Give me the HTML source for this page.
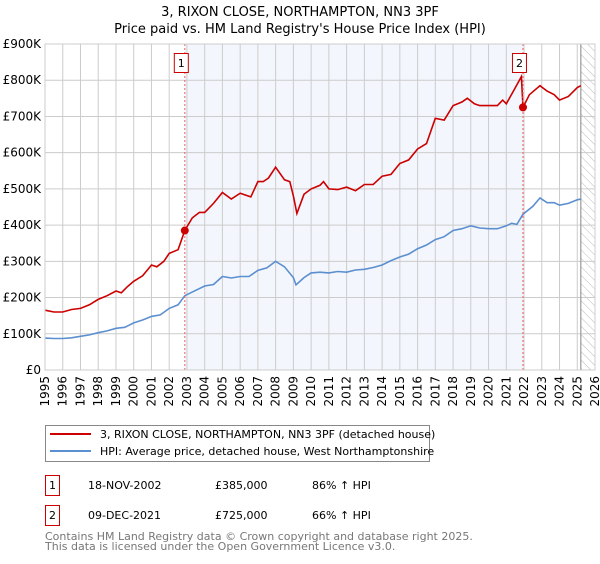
<!DOCTYPE html>
<html><head><meta charset="utf-8"><style>
body{margin:0;background:#fff;font-family:"DejaVu Sans","Liberation Sans",sans-serif;}
svg text{font-family:"DejaVu Sans","Liberation Sans",sans-serif;}
</style></head><body>
<svg id="chart" width="600" height="560" xmlns="http://www.w3.org/2000/svg">
<defs><pattern id="hatch" width="6" height="6" patternUnits="userSpaceOnUse" patternTransform="rotate(-45)"><line x1="0" y1="0" x2="0" y2="6" stroke="#bbb" stroke-width="1"/></pattern></defs>
<text x="300" y="16" text-anchor="middle" font-size="13">3, RIXON CLOSE, NORTHAMPTON, NN3 3PF</text>
<text x="300" y="33" text-anchor="middle" font-size="13">Price paid vs. HM Land Registry's House Price Index (HPI)</text>
<g id="plot"></g>
<g>
<rect x="45.5" y="425.5" width="384" height="36" fill="#fff" stroke="#888"/>
<line x1="50" y1="434" x2="91" y2="434" stroke="#cc0000" stroke-width="2"/>
<text x="100" y="438" font-size="11">3, RIXON CLOSE, NORTHAMPTON, NN3 3PF (detached house)</text>
<line x1="50" y1="451" x2="91" y2="451" stroke="#5b8fd0" stroke-width="2"/>
<text x="100" y="455" font-size="11">HPI: Average price, detached house, West Northamptonshire</text>
</g>
<g font-size="11">
<rect x="45.5" y="475.5" width="14" height="20" fill="#fff" stroke="#cc0000"/>
<text x="52.5" y="489" text-anchor="middle">1</text>
<text x="88" y="489">18-NOV-2002</text><text x="215" y="489">£385,000</text><text x="312" y="489">86% ↑ HPI</text>
<rect x="45.5" y="505.5" width="14" height="20" fill="#fff" stroke="#cc0000"/>
<text x="52.5" y="519" text-anchor="middle">2</text>
<text x="88" y="519">09-DEC-2021</text><text x="215" y="519">£725,000</text><text x="312" y="519">66% ↑ HPI</text>
</g>
<text x="45" y="540" font-size="11" fill="#777">Contains HM Land Registry data © Crown copyright and database right 2025.</text>
<text x="45" y="550" font-size="11" fill="#777">This data is licensed under the Open Government Licence v3.0.</text>
</svg>
<script>
const hpiYears=[1995,1995.5,1996,1996.5,1997,1997.5,1998,1998.5,1999,1999.5,2000,2000.5,2001,2001.5,2002,2002.5,2002.88,2003.5,2004,2004.5,2005,2005.5,2006,2006.5,2007,2007.5,2008,2008.5,2009,2009.15,2009.6,2010,2010.5,2011,2011.5,2012,2012.5,2013,2013.5,2014,2014.5,2015,2015.5,2016,2016.5,2017,2017.5,2018,2018.5,2019,2019.5,2020,2020.5,2021,2021.3,2021.6,2021.94,2022.5,2022.9,2023.3,2023.7,2024,2024.5,2025,2025.2];
const hpiValues=[88,87,87,89,93,97,103,108,115,118,130,138,148,152,170,180,205,220,232,236,258,254,258,258,275,282,300,285,255,235,255,268,270,268,272,270,276,278,283,290,302,312,320,335,345,360,368,385,390,398,392,390,390,398,405,402,430,452,475,462,462,455,460,470,472];
const redYears=[1995,1995.5,1996,1996.5,1997,1997.5,1998,1998.5,1999,1999.3,1999.6,2000,2000.5,2001,2001.3,2001.7,2002,2002.5,2002.88,2003.3,2003.7,2004,2004.5,2005,2005.5,2006,2006.6,2007,2007.3,2007.6,2008,2008.5,2008.8,2009,2009.2,2009.6,2010,2010.5,2010.7,2011,2011.5,2012,2012.5,2013,2013.5,2014,2014.5,2015,2015.5,2016,2016.5,2017,2017.5,2018,2018.5,2018.8,2019.2,2019.5,2020,2020.5,2020.8,2021,2021.4,2021.85,2021.94,2022.3,2022.9,2023.3,2023.7,2024,2024.5,2025,2025.2];
const redValues=[165,160,160,167,170,180,195,205,218,213,228,245,260,290,285,300,322,332,385,420,435,435,460,490,472,488,478,520,520,530,560,525,520,480,432,485,500,510,520,500,498,505,495,512,512,535,540,570,580,610,625,695,690,730,740,750,735,730,730,730,745,735,770,810,725,760,785,770,760,745,755,780,785];
const years=[];for(let y=1995;y<=2026;y++)years.push(y);
const yTicks=[0,100,200,300,400,500,600,700,800,900];
const yTickLabels=["£0","£100K","£200K","£300K","£400K","£500K","£600K","£700K","£800K","£900K"];
const saleYears=[2002.88,2021.94];
const salePrices=[385,725];
const saleLabels=["1","2"];
const X0=45,X1=595,Y0=370,Y1=44;
const xs=y=>X0+(y-1995)/(2026-1995)*(X1-X0);
const ys=v=>Y0-v/900*(Y0-Y1);
const NS="http://www.w3.org/2000/svg";
const g=document.getElementById('plot');
function mk(t,a,p){const e=document.createElementNS(NS,t);for(const k in a)e.setAttribute(k,a[k]);(p||g).appendChild(e);return e;}
let r=mk('rect',{x:xs(saleYears[0]),y:Y1,width:xs(saleYears[1])-xs(saleYears[0]),height:Y0-Y1,fill:'#eef2fb',opacity:0.7});


r=mk('rect',{x:xs(2025.2),y:Y1,width:X1-xs(2025.2),height:Y0-Y1,fill:'url(#hatch)'});


yTicks.forEach((v,i)=>{
 const l=mk('line',{x1:X0,x2:X1,y1:ys(v),y2:ys(v),stroke:'#ccc'});
 
 
 const t=mk('text',{x:X0-4,y:ys(v)+4,'text-anchor':'end','font-size':12});t.textContent=yTickLabels[i];
 
 
});
years.forEach(y=>{
 const l=mk('line',{x1:xs(y),x2:xs(y),y1:Y1,y2:Y0,stroke:'#ccc'});
 
 
 const t=mk('text',{x:0,y:0,'text-anchor':'end','font-size':12,transform:`translate(${xs(y)+4},${Y0+6}) rotate(-90)`});t.textContent=y;
 
 
});
const l2=mk('line',{x1:xs(2025.2),x2:xs(2025.2),y1:Y1,y2:Y0,stroke:'#999','stroke-width':1.2});


function path(xa,va,col,name){const p=mk('path',{d:xa.map((x,i)=>(i?'L':'M')+xs(x).toFixed(1)+','+ys(va[i]).toFixed(1)).join(''),fill:'none',stroke:col,'stroke-width':1.6});
 
 }
path(hpiYears,hpiValues,'#5b8fd0','hpi-line');
path(redYears,redValues,'#cc0000','price-paid-line');
saleYears.forEach((y,i)=>{
 const l=mk('line',{x1:xs(y),x2:xs(y),y1:Y1,y2:Y0,stroke:'#f06060','stroke-dasharray':'2,2'});
 
 
 const c=mk('circle',{cx:xs(y),cy:ys(salePrices[i]),r:4,fill:'#cc0000'});
 
 
 const b=mk('rect',{x:xs(y)-10.5,y:53.5,width:14,height:19,fill:'#fff',stroke:'#cc0000'});
 
 
 const t=mk('text',{x:xs(y)-3.5,y:67,'text-anchor':'middle','font-size':11});t.textContent=saleLabels[i];
 
 
});
const f=mk('rect',{x:X0,y:Y1,width:X1-X0,height:Y0-Y1,fill:'none',stroke:'#ccc'});


</script>
</body></html>
